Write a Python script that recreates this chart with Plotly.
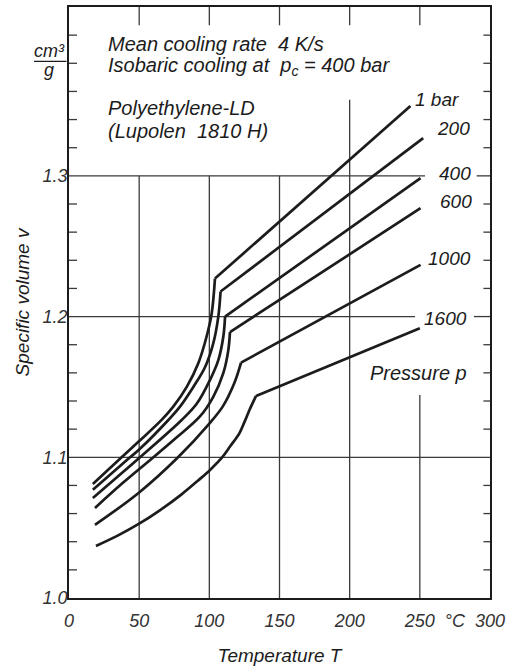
import plotly.graph_objects as go

# ---------------- data ----------------
pressures = ["1 bar", "200", "400", "600", "1000", "1600"]

T_1bar = [17.0, 37.5, 50.0, 66.0, 74.3, 83.9, 92.2, 98.1, 101.7, 104.0, 243.3]
v_1bar = [1.081, 1.100, 1.1115, 1.1266, 1.136, 1.150, 1.167, 1.186, 1.2024, 1.227, 1.3497]

T_200 = [17.0, 43.5, 50.0, 70.8, 79.1, 88.6, 96.9, 102.8, 106.4, 108.0, 252.4]
v_200 = [1.077, 1.100, 1.1055, 1.1265, 1.136, 1.150, 1.164, 1.181, 1.200, 1.2178, 1.3268]

T_400 = [17.0, 35.0, 50.6, 80.3, 91.0, 100.5, 106.4, 110.0, 111.2, 250.5]
v_400 = [1.071, 1.0865, 1.100, 1.1265, 1.138, 1.155, 1.169, 1.186, 1.200, 1.2984]

T_600 = [18.5, 38.0, 58.9, 76.0, 93.3, 102.8, 110.0, 113.5, 114.7, 250.5]
v_600 = [1.064, 1.0815, 1.099, 1.1135, 1.129, 1.143, 1.160, 1.176, 1.189, 1.277]

T_1000 = [18.5, 50.0, 77.7, 100.0, 109.5, 117.9, 122.6, 250.5]
v_1000 = [1.052, 1.075, 1.100, 1.124, 1.136, 1.153, 1.1673, 1.2367]

T_1600 = [19.2, 35.0, 50.0, 65.0, 80.0, 92.0, 100.0, 108.8, 115.0, 121.4, 125.0, 128.6, 133.3, 250.0]
v_1600 = [1.037, 1.0445, 1.0528, 1.0625, 1.0735, 1.0835, 1.0905, 1.0995, 1.108, 1.117, 1.125, 1.1336, 1.1436, 1.1917]

curves_T = [T_1bar, T_200, T_400, T_600, T_1000, T_1600]
curves_v = [v_1bar, v_200, v_400, v_600, v_1000, v_1600]

# curve label positions (T, v)
label_T = [262.0, 274.3, 275.0, 275.8, 270.8, 268.6]
label_v = [1.354, 1.3334, 1.302, 1.2817, 1.241, 1.1983]

x_tickvals = [0, 50, 100, 150, 200, 250, 275, 300]
x_ticktext = ["0", "50", "100", "150", "200", "250", "°C", "300"]
y_tickvals = [1.0, 1.1, 1.2, 1.3]
y_ticktext = ["1.0", "1.1", "1.2", "1.3"]

notes = ["Mean cooling rate  4 K/s",
         "Isobaric cooling at  p<sub>c</sub> = 400 bar",
         "Polyethylene-LD",
         "(Lupolen  1810 H)"]
notes_v = [1.394, 1.3775, 1.3482, 1.3318]

# ---------------- styling ----------------
INK = "#1c1c1c"
GRID = "#3a3a3a"
FONT = "Liberation Sans"
FS = 18

fig = go.Figure()
for T, v, name in zip(curves_T, curves_v, pressures):
    # solid-state branch (smooth) up to the kink, then straight melt branch
    fig.add_trace(go.Scatter(x=T[:-1], y=v[:-1], mode="lines", name=name,
                             line=dict(color=INK, width=2.7, shape="spline", smoothing=1.0),
                             showlegend=False, hoverinfo="skip"))
    fig.add_trace(go.Scatter(x=T[-2:], y=v[-2:], mode="lines", name=name,
                             line=dict(color=INK, width=2.7),
                             showlegend=False, hoverinfo="skip"))

shapes = []
def seg(x0, y0, x1, y1, w=1.3, c=GRID):
    shapes.append(dict(type="line", xref="x", yref="y", x0=x0, y0=y0, x1=x1, y1=y1,
                       line=dict(color=c, width=w), layer="below"))

# vertical grid segments
for T0, vtop in [(50, 1.3), (100, 1.3), (150, 1.3), (200, 1.354), (250, 1.1443)]:
    seg(T0, 1.0, T0, vtop)
# top ticks
for T0 in [50, 100, 150, 200, 250]:
    seg(T0, 1.42, T0, 1.407)
# horizontal grid segments
seg(0, 1.1, 300, 1.1)
seg(0, 1.2, 246.6, 1.2)
seg(288.5, 1.2, 300, 1.2)
seg(0, 1.3, 253.7, 1.3)
seg(290.5, 1.3, 300, 1.3)
# minor ticks left / right
minor_v = [1.02, 1.04, 1.06, 1.08, 1.12, 1.14, 1.16, 1.18, 1.22, 1.24, 1.26, 1.28,
           1.32, 1.34, 1.36, 1.38, 1.40]
for vv in minor_v:
    seg(0, vv, 5.7, vv)
    seg(295.3, vv, 300, vv)

# unit fraction bar on y axis (paper x, data y)
shapes.append(dict(type="line", xref="paper", yref="y", x0=-0.083, x1=-0.006,
                   y0=1.3813, y1=1.3813, line=dict(color=INK, width=1.2)))

def txtfont(size):
    return dict(family=FONT, size=size, color=INK, style="italic")

annotations = []
for t, v in zip(notes, notes_v):
    annotations.append(dict(x=26.4, y=v, xref="x", yref="y", text=t, showarrow=False,
                            xanchor="left", yanchor="middle", font=txtfont(20)))
for t, T, v in zip(pressures, label_T, label_v):
    annotations.append(dict(x=T, y=v, xref="x", yref="y", text=t, showarrow=False,
                            xanchor="center", yanchor="middle", font=txtfont(19)))
annotations.append(dict(x=249.0, y=1.160, xref="x", yref="y", text="Pressure p",
                        showarrow=False, xanchor="center", yanchor="middle",
                        font=txtfont(20)))
annotations.append(dict(x=-0.0475, y=1.3800, xref="paper", yref="y", text="cm³",
                        showarrow=False, xanchor="center", yanchor="bottom",
                        font=txtfont(18)))
annotations.append(dict(x=-0.0475, y=1.3835, xref="paper", yref="y", text="g",
                        showarrow=False, xanchor="center", yanchor="top",
                        font=txtfont(18)))

fig.update_layout(
    width=510, height=666,
    margin=dict(l=69, r=20, t=7, b=68),
    paper_bgcolor="white", plot_bgcolor="white",
    font=dict(family=FONT, size=FS, color=INK, style="italic"),
    shapes=shapes, annotations=annotations,
)
fig.update_xaxes(range=[0, 300], tickvals=x_tickvals, ticktext=x_ticktext,
                 showgrid=False, zeroline=False, showline=True, mirror=True,
                 linecolor=INK, linewidth=1.6, ticks="", ticklabelstandoff=6,
                 automargin=False,
                 tickfont=dict(family=FONT, size=FS, color="#333", style="italic"),
                 title=dict(text="Temperature T", standoff=18,
                            font=txtfont(19)))
fig.update_yaxes(range=[1.0, 1.42], tickvals=y_tickvals, ticktext=y_ticktext,
                 showgrid=False, zeroline=False, showline=True, mirror=True,
                 linecolor=INK, linewidth=1.6, ticks="", ticklabelstandoff=-4,
                 automargin=False,
                 tickfont=dict(family=FONT, size=FS, color="#333", style="italic"),
                 title=dict(text="Specific volume v", standoff=8,
                            font=txtfont(19)))

fig.write_html("out.html")
